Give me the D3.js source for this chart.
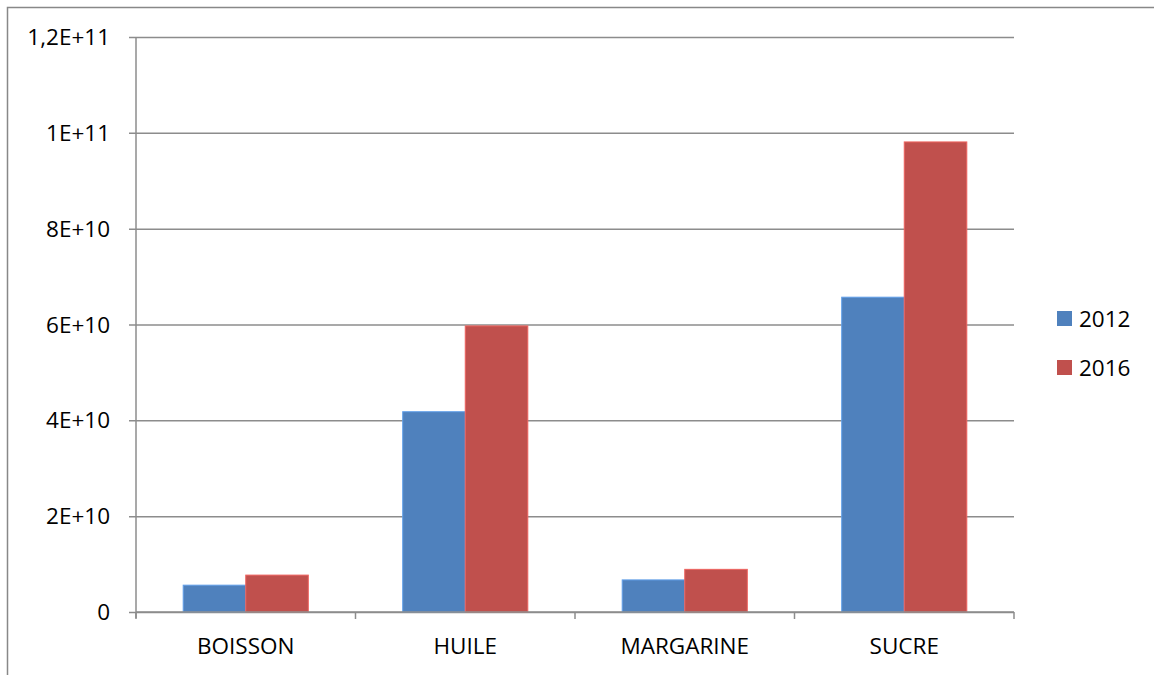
<!DOCTYPE html>
<html>
<head>
<meta charset="utf-8">
<script src="https://cdn.jsdelivr.net/npm/d3@7"></script>
<style>
  html, body { margin: 0; padding: 0; background: #fff; }
  svg { display: block; }
  text { font-family: "Open Sans", "Noto Sans", sans-serif; fill: #000; }
</style>
</head>
<body>
<svg id="chart" width="1154" height="675"></svg>
<script>
// Product categories and yearly values
const categories = ["BOISSON", "HUILE", "MARGARINE", "SUCRE"];
const years = ["2012", "2016"];
const values2012 = [5.6e9, 4.18e10, 6.7e9, 6.57e10];
const values2016 = [7.7e9, 5.97e10, 8.9e9, 9.81e10];
const yTicks = [0, 2e10, 4e10, 6e10, 8e10, 1e11, 1.2e11];
const yTickLabels = ["0", "2E+10", "4E+10", "6E+10", "8E+10", "1E+11", "1,2E+11"];
const colors = ["#4F81BD", "#C0504D"];

const series = [values2012, values2016];
const fontSize = "22.5px";

const svg = d3.select("#chart");
const plot = { left: 136, right: 1014, top: 37, bottom: 612 };

// Outer chart frame
svg.append("path")
  .attr("d", "M7.5,675 V7.5 H1154")
  .attr("fill", "none")
  .attr("stroke", "#888")
  .attr("stroke-width", 1.5);

const x = d3.scaleBand()
  .domain(categories)
  .range([plot.left, plot.right])
  .paddingInner(0.43)
  .paddingOuter(0.215);

const xCat = d3.scaleBand()
  .domain(categories)
  .range([plot.left, plot.right]);

const xSub = d3.scaleBand()
  .domain(years)
  .range([0, x.bandwidth()]);

const y = d3.scaleLinear()
  .domain([0, 1.2e11])
  .range([plot.bottom, plot.top]);

// Horizontal gridlines with short tick stubs to the left
const yAxis = d3.axisLeft(y)
  .tickValues(yTicks)
  .tickSize(-(plot.right - plot.left))
  .tickFormat("");
const gy = svg.append("g")
  .attr("transform", `translate(${plot.left},0)`)
  .call(yAxis);
gy.select(".domain").remove();
gy.selectAll(".tick line")
  .attr("x1", -7)
  .attr("stroke", "#8c8c8c")
  .attr("stroke-width", 1.5);

// Y tick labels
svg.append("g").selectAll("text")
  .data(yTicks)
  .join("text")
  .attr("x", 110)
  .attr("y", d => y(d) + 8)
  .attr("text-anchor", "end")
  .style("font-size", fontSize)
  .text((d, i) => yTickLabels[i]);

// Vertical axis line
svg.append("line")
  .attr("x1", plot.left).attr("x2", plot.left)
  .attr("y1", plot.top).attr("y2", plot.bottom + 6)
  .attr("stroke", "#8c8c8c")
  .attr("stroke-width", 1.5);

// Bars
categories.forEach((c, ci) => {
  series.forEach((vals, si) => {
    svg.append("rect")
      .attr("x", x(c) + xSub(years[si]))
      .attr("y", y(vals[ci]))
      .attr("width", xSub.bandwidth())
      .attr("height", y(0) - y(vals[ci]))
      .attr("fill", colors[si])
      .attr("stroke", d3.color(colors[si]).brighter(0.6))
      .attr("stroke-width", 1);
  });
});

// Category axis
const xAxis = d3.axisBottom(xCat).tickSize(0).tickFormat("");
const gx = svg.append("g")
  .attr("transform", `translate(0,${plot.bottom})`)
  .call(xAxis);
gx.select(".domain").attr("stroke", "#8c8c8c").attr("stroke-width", 1.5)
  .attr("d", `M${plot.left},0H${plot.right}`);
gx.selectAll(".tick").remove();

// Category boundary ticks
const bounds = categories.map(c => xCat(c)).concat([plot.right]);
svg.append("g").selectAll("line")
  .data(bounds)
  .join("line")
  .attr("x1", d => d).attr("x2", d => d)
  .attr("y1", plot.bottom).attr("y2", plot.bottom + 7)
  .attr("stroke", "#8c8c8c")
  .attr("stroke-width", 1.5);

// Category labels
svg.append("g").selectAll("text")
  .data(categories)
  .join("text")
  .attr("x", d => xCat(d) + xCat.bandwidth() / 2)
  .attr("y", 654)
  .attr("text-anchor", "middle")
  .style("font-size", fontSize)
  .text(d => d);

// Legend
const legend = svg.append("g");
years.forEach((yr, i) => {
  legend.append("rect")
    .attr("x", 1057)
    .attr("y", 311 + i * 49)
    .attr("width", 15)
    .attr("height", 15)
    .attr("fill", colors[i]);
  legend.append("text")
    .attr("x", 1079)
    .attr("y", 327 + i * 49)
    .style("font-size", fontSize)
    .text(yr);
});
</script>
</body>
</html>
